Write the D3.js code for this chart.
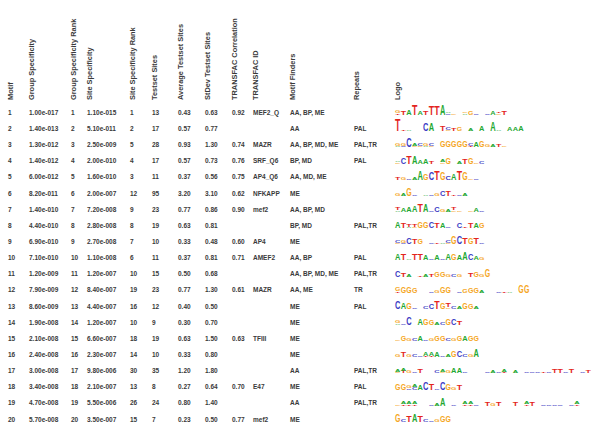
<!DOCTYPE html>
<html><head><meta charset="utf-8">
<script src="https://cdn.jsdelivr.net/npm/d3@7/dist/d3.min.js"></script>
<style>body{margin:0;background:#fff}svg{display:block}</style>
</head><body>
<svg id="c" width="600" height="426"></svg>
<script>
const headers = ["Motif","Group Specificity","Group Specificity Rank","Site Specificity","Site Specificity Rank","Testset Sites","Average Testset Sites","StDev Testset Sites","TRANSFAC Correlation","TRANSFAC ID","Motif Finders","Repeats","Logo"];
const motifs = [1,2,3,4,5,6,7,8,9,10,11,12,13,14,15,16,17,18,19,20];
const groupSpecificity = [1.00e-17,1.40e-13,1.30e-12,1.40e-12,6.00e-12,8.20e-11,1.40e-10,4.40e-10,6.90e-10,7.10e-10,1.20e-9,7.90e-9,8.60e-9,1.90e-8,2.10e-8,2.40e-8,3.00e-8,3.40e-8,4.70e-8,5.70e-8];
const groupRank = [1,2,3,4,5,6,7,8,9,10,11,12,13,14,15,16,17,18,19,20];
const siteSpecificity = [1.10e-15,5.10e-11,2.50e-9,2.00e-10,1.60e-10,2.00e-7,7.20e-8,2.80e-8,2.70e-8,1.10e-8,1.20e-7,8.40e-7,4.40e-7,1.20e-7,6.60e-7,2.30e-7,9.80e-6,2.10e-7,5.50e-6,3.50e-7];
const siteRank = [1,2,5,4,3,12,9,8,7,6,10,19,16,10,18,14,30,13,26,15];
const testsetSites = [13,17,28,17,11,95,23,19,10,11,15,23,12,9,19,10,35,8,24,7];
const avgTestset = [0.43,0.57,0.93,0.57,0.37,3.20,0.77,0.63,0.33,0.37,0.50,0.77,0.40,0.30,0.63,0.33,1.20,0.27,0.80,0.23];
const stdevTestset = [0.63,0.77,1.30,0.73,0.56,3.10,0.86,0.81,0.48,0.81,0.68,1.30,0.50,0.70,1.50,0.80,1.80,0.64,1.40,0.50];
const transfacCorr = [0.92,null,0.74,0.76,0.75,0.62,0.90,null,0.60,0.71,null,0.61,null,null,0.63,null,null,0.70,null,0.77];
const transfacId = ["MEF2_Q","","MAZR","SRF_Q6","AP4_Q6","NFKAPP","mef2","","AP4","AMEF2","","MAZR","","","TFIII","","","E47","","mef2"];
const motifFinders = ["AA, BP, ME","AA","AA, BP, MD, ME","BP, MD","AA, MD, ME","ME","AA, BP, MD","BP, MD","ME","AA, BP","AA, BP, MD, ME","AA, ME","ME","ME","ME","ME","AA","ME","AA","ME"];
const repeats = ["","PAL","PAL,TR","PAL","","","","PAL,TR","","PAL","PAL,TR","TR","PAL","","","","PAL,TR","PAL","PAL,TR",""];
// sequence logos: columns separated by spaces, letter + information (0.1 bit units), 0 = empty position
const logos = [
 "G2T1 T3 A6 T16 A3 T4 T12 T12 A14 C1A1 G1 0 A1G1 G3 C1 0 C1 A3 G1T1 T3",
 "T18 T1 A1 0 0 C9 A9 0 T5 C2G1 T2 G3 0 A2 0 A5 0 A12 A1 0 A4 A3 A5",
 "G2A1 G2C1 C12 A2G1 C2G1 A1G2 G1C2 0 G7 G8 G8 G8 G7 C2T1 A5 G8 G2 A2 T2 G1",
 "G1A1 C8 T9 A9 A3 A6 T2 0 A2G1 G7 0 A2 T6 G7 G1 C2",
 "T2 G2 C1 A2 A12 G8 C9 T12 G10 C3 A7 T11 G9 G1 C1",
 "G2 A2 G9 C1 0 A1 C1 G2 C6 T6 T1 C1 A2",
 "T2A1 A3 A6 A7 T10 A10 C1 C5 G2 A2 T2G1 G1 0 G1 A4 C1",
 "A7 T5 T2A1 T2G1 G7 G7 C7 T6 A6 C1 0 C5 T1 T5 A5 G5",
 "C2G1 G2C1 C7 T6 G6 0 C1 T1 A1 C2G1 G10 C10 T7 G8 T7 C1",
 "A8 T7 A1 T7 T7 A6 C1 A5 C1 A7 G7 A6 A10 C7 A4 G2",
 "C8 T4 A2 0 T1 A2 T2 G6 G6 G2 C2 G2 0 T3 G6 G2 G10",
 "G4T1 G7 G7 G5 0 0 C1 G2 G7 G7 0 C1 G3 G6 G6 A2 0 0 C1 T1 A1 0 G9 G9",
 "C9 A8 G7 C1 0 C2 C5 T9 G7 T3G1 C2 A2 G7 G6 A2",
 "G2A1 C1 C10 0 A8 G7 G6 A2 C2 G8 C7 T4",
 "G1 G6 G2 C2 A6 C1 G2 G6 G5 C2 G2 G6 A6 G6 G6",
 "G2 T6 G2 C2 C1 A3T1 A3T1 A6 C1 A2 G7 C7 C2 G2 A9",
 "A2G1 T2A2 G2 C1 T3 0 0 C2 A2G1 G2 A6 A5 C1 0 0 0 C1 A2 C1 A2T1 0 A2 0 C1 C1 C1 T1 C1 T4 T3 C1 T3 0 C1 T2",
 "G8 G7 G2C1 C2A2 A5 C10 T7 C1 C9 G7 G2 T5",
 "G1 A2T1 A2T1 A2T1 0 0 C1 A2 A9 0 C1 0 A2T1 A2T1 C1 0 T4 G2 T4 0 0 T4 0 A2T1 T4 0 C1 C1 C1 C1 0 C1 A2T1",
 "G9 C2 T7 A9 T7 C2 C1 G2 G7 G7"
];

const svg = d3.select("#c");
const font = "'Liberation Sans', Arial, sans-serif";
const textColor = "#3a3a3a";

const y = d3.scaleBand().domain(motifs).range([104.4, 427.4]).padding(0);
const colX = d3.scaleOrdinal().domain(headers)
  .range([8, 29, 71, 87, 130, 152, 178, 205, 232, 253, 290, 354, 395]);

// headers (rotated)
svg.append("g").selectAll("text").data(headers).join("text")
  .attr("transform", d => `translate(${colX(d) + 5},100) rotate(-90)`)
  .attr("font-family", font).attr("font-weight", "bold").attr("font-size", 7.4)
  .attr("fill", textColor).text(d => d);

const sci = v => v.toExponential(2).replace(/e([+-])(\d+)/, (m, s, e) => "e" + s + e.padStart(3, "0"));
const f2 = v => v == null ? "" : v.toFixed(2);
const cols = [
  ["Motif", motifs, String],
  ["Group Specificity", groupSpecificity, sci],
  ["Group Specificity Rank", groupRank, String],
  ["Site Specificity", siteSpecificity, sci],
  ["Site Specificity Rank", siteRank, String],
  ["Testset Sites", testsetSites, String],
  ["Average Testset Sites", avgTestset, f2],
  ["StDev Testset Sites", stdevTestset, f2],
  ["TRANSFAC Correlation", transfacCorr, f2],
  ["TRANSFAC ID", transfacId, String],
  ["Motif Finders", motifFinders, String],
  ["Repeats", repeats, String]
];
const body = svg.append("g");
cols.forEach(([key, vals, fmt]) => {
  body.append("g").selectAll("text").data(vals).join("text")
    .attr("x", colX(key))
    .attr("y", (d, i) => y(motifs[i]) + y.bandwidth() / 2 + 2.3)
    .attr("font-family", font).attr("font-weight", "bold").attr("font-size", 6.5)
    .attr("fill", textColor).text(d => fmt(d));
});

// logos
const letterColor = {A: "#1fa832", C: "#3b3bc4", G: "#f5a623", T: "#e3241d"};
const bitH = d3.scalePow().exponent(0.7).domain([0, 2]).range([0, 13]);
const posW = 5.6;
const lg = svg.append("g");
logos.forEach((str, i) => {
  const base = y(motifs[i]) + y.bandwidth() / 2 + 2.6;
  const x0 = colX("Logo");
  str.split(" ").forEach((col, j) => {
    const letters = [...col.matchAll(/([ACGT])(\d+)/g)].map(m => ({l: m[1], b: +m[2] / 10}));
    letters.sort((a, b) => a.b - b.b);
    let yy = base;
    letters.forEach(L => {
      const h = bitH(L.b);
      const xx = x0 + j * posW + 0.1;
      const w = posW - 0.2;
      lg.append("text")
        .attr("transform", `translate(${xx},${yy}) scale(${w / 7.2},${h / 7.16})`)
        .attr("font-family", font).attr("font-weight", "bold").attr("font-size", 10)
        .attr("textLength", 7.2).attr("lengthAdjust", "spacingAndGlyphs")
        .attr("fill", letterColor[L.l]).text(L.l);
      yy -= h;
    });
  });
});
</script>
</body></html>
